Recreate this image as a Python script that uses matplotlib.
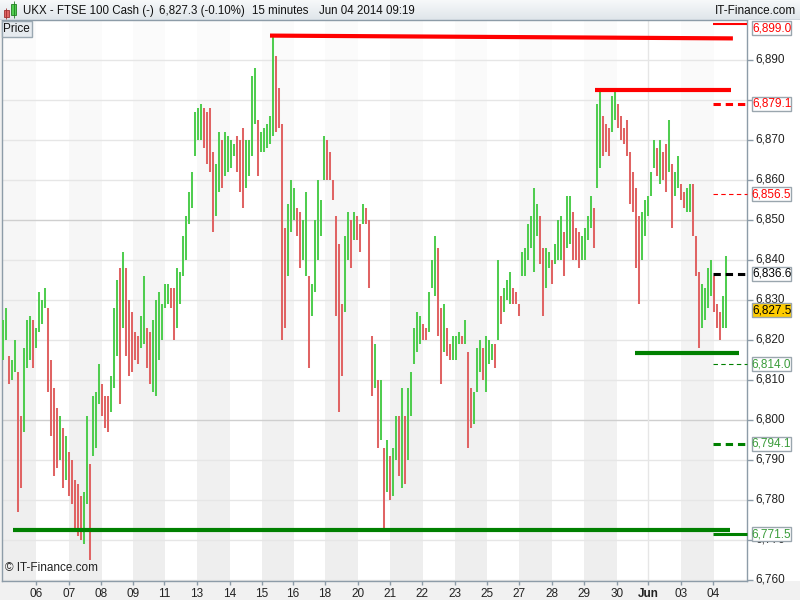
import numpy as np
import matplotlib
matplotlib.use("Agg")
import matplotlib.pyplot as plt
import matplotlib.transforms as mtransforms
from matplotlib.colors import LinearSegmentedColormap
from matplotlib.patches import Rectangle

plt.rcParams['font.family'] = ['Liberation Sans', 'DejaVu Sans']

# 15 minute bars (high / low), left to right
highs = [
    # 06 - 09 May
    6825, 6828, 6816, 6815, 6820, 6812, 6801, 6818, 6825, 6826,
    6825, 6823, 6832, 6830, 6833, 6828, 6815, 6808, 6803, 6801,
    6798, 6796, 6792, 6790, 6785, 6784, 6781, 6782, 6801, 6789,
    6806, 6807, 6814, 6809, 6806, 6806, 6811, 6828, 6835, 6838,
    6842, 6838, 6830, 6827, 6822, 6821, 6826, 6836, 6823, 6822,
    6825, 6830, 6832, 6829, 6834, 6834, 6833, 6833, 6838, 6837,
    6846, 6851, 6857,
    # 11 - 20 May
    6862, 6877, 6878, 6879, 6878, 6877, 6878, 6867, 6864, 6872,
    6870, 6872, 6871, 6870, 6869, 6871, 6870, 6873, 6870, 6870,
    6886, 6888, 6875, 6872, 6873, 6874, 6876, 6896.5, 6891, 6883,
    6874, 6848, 6854, 6860, 6858, 6853, 6852, 6850, 6857, 6836,
    6834, 6850, 6860, 6855, 6871, 6870, 6867, 6860, 6851, 6844,
    6829, 6846, 6852, 6850, 6852, 6851, 6849, 6854, 6853, 6850,
    6821, 6819, 6810,
    # 21 - 29 May
    6810, 6793, 6795, 6791, 6793, 6801, 6801, 6808, 6801, 6808,
    6812, 6823, 6827, 6826, 6824, 6823, 6832, 6840, 6846, 6843,
    6828, 6829, 6823, 6819, 6821, 6821, 6822, 6821, 6825, 6817,
    6808, 6807, 6818, 6820, 6818, 6821, 6820, 6819, 6819, 6840,
    6831, 6833, 6835, 6837, 6833, 6832, 6829, 6842, 6843, 6849,
    6851, 6858, 6854, 6851, 6843, 6843, 6842, 6840, 6844, 6850,
    6851, 6847, 6856,
    # 29 May - 04 Jun
    6856, 6852, 6848, 6847, 6846, 6848, 6851, 6856, 6853, 6879,
    6882, 6876, 6874, 6873, 6881, 6882, 6879, 6876, 6873, 6875,
    6867, 6862, 6858, 6851, 6852, 6855, 6856, 6862, 6870, 6868,
    6870, 6867, 6869, 6875, 6864, 6862, 6866, 6859, 6857, 6858,
    6859, 6859, 6846, 6837, 6834, 6833, 6838, 6840, 6836, 6829,
    6827, 6831, 6841,
]
lows = [
    6815, 6820, 6809, 6810, 6812, 6777, 6783, 6797, 6813, 6815,
    6813, 6818, 6822, 6824, 6828, 6807, 6796, 6786, 6788, 6790,
    6783, 6785, 6781, 6779, 6773, 6771, 6770, 6769, 6779, 6765,
    6791, 6793, 6804, 6801, 6798, 6797, 6802, 6808, 6816, 6804,
    6823, 6816, 6811, 6812, 6815, 6814, 6818, 6819, 6813, 6809,
    6807, 6806, 6815, 6820, 6828, 6829, 6828, 6820, 6823, 6829,
    6836, 6840, 6849,
    6853, 6866, 6870, 6870, 6868, 6864, 6862, 6847, 6851, 6857,
    6858, 6861, 6862, 6863, 6866, 6862, 6857, 6853, 6858, 6861,
    6866, 6874, 6861, 6867, 6867, 6868, 6869, 6871, 6872, 6873,
    6820, 6823, 6836, 6847, 6850, 6846, 6838, 6840, 6836, 6813,
    6826, 6832, 6840, 6846, 6860, 6860, 6860, 6855, 6826, 6802,
    6811, 6827, 6840, 6838, 6845, 6845, 6842, 6849, 6849, 6833,
    6806, 6808, 6793,
    6795, 6773, 6782, 6780, 6781, 6790, 6786, 6783, 6784, 6790,
    6801, 6814, 6817, 6819, 6820, 6820, 6822, 6833, 6831, 6821,
    6809, 6817, 6816, 6815, 6815, 6815, 6819, 6819, 6819, 6793,
    6798, 6799, 6807, 6812, 6810, 6807, 6814, 6815, 6813, 6820,
    6824, 6827, 6830, 6829, 6829, 6829, 6826, 6836, 6836, 6840,
    6843, 6837, 6846, 6839, 6826, 6833, 6838, 6834, 6839, 6840,
    6840, 6836, 6843,
    6844, 6840, 6840, 6838, 6840, 6840, 6845, 6848, 6843, 6858,
    6863, 6866, 6867, 6866, 6872, 6875, 6873, 6870, 6869, 6866,
    6854, 6852, 6838, 6829, 6840, 6846, 6851, 6856, 6863, 6861,
    6859, 6860, 6857, 6862, 6848, 6856, 6858, 6855, 6853, 6852,
    6852, 6846, 6836, 6818, 6823, 6825, 6828, 6831, 6827, 6823,
    6820, 6823, 6823,
]

# day ticks (bar position of each label)
day_labels = ['06', '07', '08', '09', '11', '13', '14', '15', '16', '18', '20',
              '21', '22', '23', '25', '27', '28', '29', '30', 'Jun', '03', '04']
day_pos = [11.0, 22.0, 32.7, 43.3, 53.7, 64.7, 75.7, 86.3, 96.7, 107.3, 118.3,
           129.0, 139.7, 150.7, 161.3, 172.0, 183.0, 193.7, 204.7, 215.0, 226.0, 236.7]

# hand drawn support / resistance lines
line_x0 = [89.0, 197.3, 210.7, 3.3]
line_x1 = [243.3, 242.7, 245.3, 242.3]
line_y0 = [6896.1, 6882.4, 6816.7, 6772.5]
line_y1 = [6895.4, 6882.4, 6816.7, 6772.5]
line_colors = ['#ff0000', '#ff0000', '#008000', '#008000']

# price levels flagged on the right axis
level_values = [6899.0, 6879.1, 6856.5, 6836.6, 6814.0, 6794.1, 6771.5]
level_colors = ['#ff0000', '#ff0000', '#ff0000', '#000000', '#008000', '#008000', '#008000']
level_text = ['#ff0000', '#ff0000', '#ff0000', '#000000', '#3a9c3a', '#3a9c3a', '#3a9c3a']
level_widths = [1.5, 2.2, 0.8, 2.2, 0.8, 2.2, 2.2]
level_dashed = [False, True, True, True, True, True, False]

last_price = 6827.5
y_ticks = list(range(6760, 6900, 10))
hidden_ticks = [6880]  # sits under the 6,879.1 flag

GREEN = '#50cd50'
RED = '#e06464'
EDGE = '#8d9ca8'

fig = plt.figure(figsize=(8, 6), dpi=100, facecolor='#f1f1f1')

# white panel behind the price scale
fig.add_artist(Rectangle((747 / 800, 19 / 600), 53 / 800, 561 / 600,
                         transform=fig.transFigure, facecolor='white',
                         edgecolor='none', zorder=0))

ax = fig.add_axes([2 / 800, 19 / 600, 745 / 800, 561 / 600])
ax.set_facecolor('white')
x = np.arange(len(highs))
x_lim = (-1 / 3, 248.0)
y_lim = (6759.75, 6900.0)

# alternating day bands (light vertical gradient)
band_cmap = LinearSegmentedColormap.from_list('band', ['#fcfcfc', '#eeeeee'])
grad = np.linspace(0, 1, 256).reshape(-1, 1)
regular = [p for lab, p in zip(day_labels, day_pos) if lab != 'Jun']
edges = [x_lim[0]] + regular + [x_lim[1]]
for k in range(0, len(edges) - 1, 2):
    ax.imshow(grad, extent=(edges[k], edges[k + 1], y_lim[0], y_lim[1]),
              cmap=band_cmap, vmin=0, vmax=1, aspect='auto', origin='upper',
              zorder=0, interpolation='bilinear')

for v in y_ticks:
    ax.axhline(v, color='#cfcfcf' if v % 50 == 0 else '#e6e6e6', lw=1, zorder=1)
ax.axvline(day_pos[day_labels.index('Jun')], color='#e6e6e6', lw=1, zorder=1)

# bars, green when the bar moves up
mid = (np.array(highs) + np.array(lows)) / 2
cols = [GREEN if i == 0 or mid[i] >= mid[i - 1] else RED for i in range(len(mid))]
ax.vlines(x, lows, highs, colors=cols, linewidth=1.45, zorder=3)

for x0, x1, y0, y1, c in zip(line_x0, line_x1, line_y0, line_y1, line_colors):
    ax.plot([x0, x1], [y0, y1], color=c, lw=3.0, solid_capstyle='butt', zorder=4)

# right-side flags
blend = mtransforms.blended_transform_factory(ax.transAxes, ax.transData)
for v, c, tc, w, d in zip(level_values, level_colors, level_text, level_widths, level_dashed):
    ls = (0, (2.4, 1.6)) if (d and w > 1) else ((0, (4, 3)) if d else '-')
    ax.plot([0.954, 1.0], [v, v], transform=blend, color=c, lw=w, ls=ls,
            solid_capstyle='butt', dash_capstyle='butt', zorder=4, clip_on=False)
    yc = min(v, 6898.0)
    ax.add_patch(Rectangle((1.0067, yc - 1.75), 0.0524, 3.5, transform=blend,
                           facecolor='white', edgecolor='#9aa6ae', lw=1,
                           clip_on=False, zorder=6))
    ax.text(1.033, yc, f'{v:,.1f}', transform=blend, ha='center', va='center',
            fontsize=8.5, color=tc, zorder=7, clip_on=False)

ax.add_patch(Rectangle((1.0067, last_price - 1.7), 0.0524, 3.4, transform=blend,
                       facecolor='#ffcc00', edgecolor='#9aa6ae', lw=1,
                       clip_on=False, zorder=6))
ax.text(1.033, last_price, f'{last_price:,.1f}', transform=blend, ha='center',
        va='center', fontsize=8.5, color='black', zorder=7, clip_on=False)

ax.set_xlim(*x_lim)
ax.set_ylim(*y_lim)
ax.yaxis.tick_right()
ax.set_yticks(y_ticks)
ax.set_yticklabels(['' if v in hidden_ticks else f'{v:,}' for v in y_ticks])
ax.tick_params(axis='y', length=4, width=1, color=EDGE, pad=2, labelsize=8.5,
               labelcolor='#222222')
lift = mtransforms.ScaledTranslation(0, 2 / 100, fig.dpi_scale_trans)
for t in ax.get_yticklabels():
    t.set_transform(t.get_transform() + lift)
ax.set_xticks(day_pos)
ax.set_xticklabels(day_labels)
ax.tick_params(axis='x', length=3, width=1, color=EDGE, pad=2, labelsize=8.5,
               labelcolor='#222222')
for t in ax.get_xticklabels():
    if t.get_text() == 'Jun':
        t.set_fontweight('bold')
for s in ax.spines.values():
    s.set_color(EDGE)
    s.set_linewidth(1)

ax.text(0.004, 0.012, '\u00a9 IT-Finance.com', transform=ax.transAxes,
        fontsize=8.5, color='#222222', ha='left', va='bottom', zorder=7)

# "Price" tag
ax.text(0.002, 0.995, 'Price', transform=ax.transAxes, fontsize=8.5, ha='left',
        va='top', color='#111111', zorder=8,
        bbox=dict(boxstyle='square,pad=0.15', facecolor='#e6ebef',
                  edgecolor='#9aa8b2', lw=1))

# header bar
hx = fig.add_axes([0, 580 / 600, 1, 20 / 600])
hx.set_xlim(0, 800)
hx.set_ylim(20, 0)
hx.axis('off')
head_cmap = LinearSegmentedColormap.from_list('head', ['#f7f9fa', '#dfe5ea'])
hx.imshow(grad, extent=(0, 800, 20, 0), cmap=head_cmap, aspect='auto',
          origin='upper', zorder=0)
hx.axhline(19.5, color=EDGE, lw=1)
hx.add_patch(Rectangle((3.5, 10), 5, 7, facecolor='#e06464', edgecolor='#a03030', lw=0.6))
hx.vlines(6, 8, 19, color='#a03030', lw=0.6)
hx.add_patch(Rectangle((11, 4), 5, 11, facecolor='#50cd50', edgecolor='#208020', lw=0.6))
hx.vlines(13.5, 1, 18, color='#208020', lw=0.6)
head_font = dict(fontsize=8.3, color='#111111', va='center', ha='left')
hx.text(23, 11, 'UKX - FTSE 100 Cash (-)', **head_font)
hx.text(159, 11, '6,827.3 (-0.10%)', **head_font)
hx.text(252, 11, '15 minutes', **head_font)
hx.text(319, 11, 'Jun 04 2014 09:19', **head_font)
hx.text(796, 11, 'IT-Finance.com', fontsize=8.5, color='#111111', va='center', ha='right')

fig.savefig('out.png', dpi=100, facecolor=fig.get_facecolor())
